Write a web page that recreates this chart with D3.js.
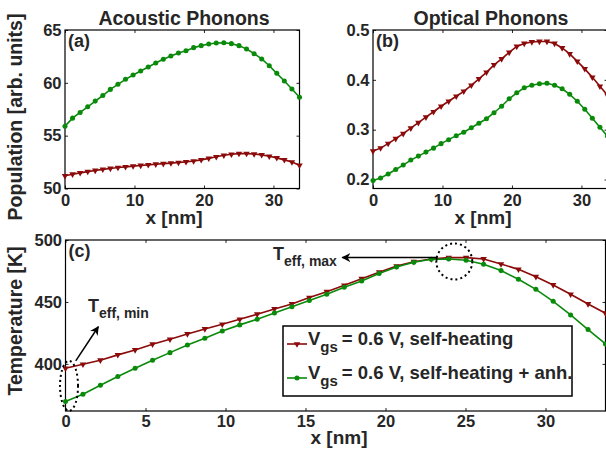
<!DOCTYPE html>
<html>
<head>
<meta charset="utf-8">
<script src="https://cdnjs.cloudflare.com/ajax/libs/d3/7.8.5/d3.min.js"></script>
<style>
body { margin: 0; background: #fff; }
svg { display: block; font-family: "Liberation Sans", Arial, sans-serif; font-weight: bold; }
.tick text { fill: #262626; font-size: 16.5px; font-weight: bold; }
.tick line { stroke: #262626; }
.lbl { fill: #262626; }
</style>
</head>
<body>
<svg id="chart" width="606" height="453"></svg>
<script>
// position along the channel [nm]
var xs = [0, 1.09, 2.18, 3.27, 4.35, 5.44, 6.53, 7.62, 8.71, 9.80, 10.89, 11.98, 13.06, 14.15, 15.24, 16.33,
          17.42, 18.51, 19.60, 20.69, 21.77, 22.86, 23.95, 25.04, 26.13, 27.22, 28.31, 29.40, 30.48, 31.57, 32.66, 33.75];

// (a) acoustic phonon population
var acSelf = [51.2, 51.35, 51.48, 51.6, 51.71, 51.81, 51.9, 51.98, 52.05, 52.12, 52.18, 52.24, 52.3, 52.35, 52.4, 52.46,
              52.52, 52.6, 52.71, 52.85, 53.0, 53.14, 53.24, 53.3, 53.3, 53.26, 53.18, 53.05, 52.9, 52.71, 52.5, 52.2];
var acAnh  = [55.9, 56.66, 57.2, 57.73, 58.27, 58.8, 59.38, 59.86, 60.33, 60.74, 61.12, 61.5, 61.88, 62.23, 62.54, 62.82,
              63.04, 63.33, 63.52, 63.68, 63.77, 63.8, 63.71, 63.52, 63.2, 62.76, 62.26, 61.62, 60.9, 60.17, 59.41, 58.63];

// (b) optical phonon population
var opSelf = [0.257, 0.263, 0.272, 0.282, 0.292, 0.303, 0.314, 0.325, 0.336, 0.347, 0.357, 0.367, 0.377, 0.389, 0.402, 0.415,
              0.43, 0.442, 0.455, 0.467, 0.473, 0.476, 0.477, 0.477, 0.473, 0.464, 0.452, 0.437, 0.422, 0.405, 0.387, 0.369];
var opAnh  = [0.198, 0.203, 0.211, 0.22, 0.229, 0.239, 0.247, 0.255, 0.263, 0.272, 0.28, 0.288, 0.295, 0.304, 0.313, 0.322,
              0.334, 0.347, 0.362, 0.374, 0.384, 0.389, 0.392, 0.393, 0.389, 0.382, 0.371, 0.357, 0.341, 0.323, 0.305, 0.287];

// (c) temperature [K]
var tSelf = [396.5, 399.7, 403, 407.3, 411.3, 415.9, 419.9, 424.2, 428.2, 432, 436, 440.1, 444.4, 448.4, 453.5, 458.3,
             463.4, 468.8, 474, 479, 482.5, 484.7, 485.8, 485.8, 484.7, 480.6, 476.3, 470.4, 463.7, 456.2, 448.4, 440.9];
var tAnh  = [369.6, 375.5, 382.8, 389.8, 396.5, 403, 409.1, 415.3, 420.7, 426.6, 431.5, 436, 441.1, 446.2, 451.1, 456.2,
             461.8, 466.9, 472.9, 478.2, 482, 484.4, 484.7, 483.6, 480.4, 475.3, 468.3, 460.2, 450.5, 439.5, 427.7, 416.1];

var xTicksAB = [0, 10, 20, 30];
var xTicksC = [0, 5, 10, 15, 20, 25, 30];
var legendNames = ["= 0.6 V, self-heating", "= 0.6 V, self-heating + anh."];

var RED = "#8b0a0a", GREEN = "#0a8a0a";
var BIG = 19.5;

var svg = d3.select("#chart");

function drawPanel(p) {
  var x = d3.scaleLinear().domain([0, 33.75]).range([p.left, p.right]);
  var y = d3.scaleLinear().domain(p.ydom).range([p.bottom, p.top]);
  var g = svg.append("g");

  g.append("g").attr("transform", "translate(0," + p.bottom + ")")
    .call(d3.axisBottom(x).tickValues(p.xticks).tickSizeInner(-3).tickSizeOuter(0).tickPadding(p.xpad))
    .call(function(s) { s.select(".domain").remove(); });
  g.append("g").attr("transform", "translate(0," + p.top + ")")
    .call(d3.axisTop(x).tickValues(p.xticks).tickSizeInner(-3).tickSizeOuter(0).tickFormat(""))
    .call(function(s) { s.select(".domain").remove(); });
  g.append("g").attr("transform", "translate(" + p.left + ",0)")
    .call(d3.axisLeft(y).tickValues(p.yticks).tickSizeInner(-3).tickSizeOuter(0).tickPadding(3.5).tickFormat(p.yfmt))
    .call(function(s) { s.select(".domain").remove(); });
  g.append("g").attr("transform", "translate(" + p.right + ",0)")
    .call(d3.axisRight(y).tickValues(p.yticks).tickSizeInner(-3).tickSizeOuter(0).tickFormat(""))
    .call(function(s) { s.select(".domain").remove(); });

  g.append("rect")
    .attr("x", p.left).attr("y", p.top)
    .attr("width", p.right - p.left).attr("height", p.bottom - p.top)
    .attr("fill", "none").attr("stroke", "#000").attr("stroke-width", 1.2);

  var line = d3.line().x(function(d, i) { return x(xs[i]); }).y(function(d) { return y(d); });
  [[p.self, RED, "tri"], [p.anh, GREEN, "dot"]].forEach(function(s) {
    g.append("path").datum(s[0]).attr("d", line)
      .attr("fill", "none").attr("stroke", s[1]).attr("stroke-width", 1.6);
    g.append("g").selectAll("path").data(s[0]).enter().append("path")
      .attr("fill", s[1])
      .attr("transform", function(d, i) {
        return "translate(" + x(xs[i]) + "," + y(d) + ")" + (s[2] == "tri" ? " rotate(180)" : "");
      })
      .attr("d", s[2] == "tri" ? d3.symbol(d3.symbolTriangle, 18)() : d3.symbol(d3.symbolCircle, 20)());
  });

  g.append("text").attr("class", "lbl").attr("x", p.left + 3).attr("y", p.top + 17)
    .attr("font-size", 18).text(p.tag);
  return {x: x, y: y};
}

var pa = drawPanel({left: 65, right: 299.5, top: 30, bottom: 188.5, ydom: [50, 65], yticks: [50, 55, 60, 65],
  xticks: xTicksAB, xpad: 5.5, yfmt: d3.format("d"), self: acSelf, anh: acAnh, tag: "(a)"});
var pb = drawPanel({left: 373, right: 607.5, top: 30, bottom: 188.5, ydom: [0.182, 0.5], yticks: [0.2, 0.3, 0.4, 0.5],
  xticks: xTicksAB, xpad: 5.5, yfmt: d3.format(".1f"), self: opSelf, anh: opAnh, tag: "(b)"});
var pc = drawPanel({left: 65.5, right: 605.5, top: 240, bottom: 411, ydom: [362, 500], yticks: [400, 450, 500],
  xticks: xTicksC, xpad: 4, yfmt: d3.format("d"), self: tSelf, anh: tAnh, tag: "(c)"});

// titles
svg.append("text").attr("class", "lbl").attr("x", 184).attr("y", 25).attr("text-anchor", "middle")
  .attr("font-size", BIG).text("Acoustic Phonons");
svg.append("text").attr("class", "lbl").attr("x", 491).attr("y", 25).attr("text-anchor", "middle")
  .attr("font-size", BIG).text("Optical Phonons");

// axis titles
svg.append("text").attr("class", "lbl").attr("x", 174).attr("y", 224).attr("text-anchor", "middle")
  .attr("font-size", 19).text("x [nm]");
svg.append("text").attr("class", "lbl").attr("x", 483).attr("y", 224).attr("text-anchor", "middle")
  .attr("font-size", 19).text("x [nm]");
svg.append("text").attr("class", "lbl").attr("x", 339).attr("y", 444).attr("text-anchor", "middle")
  .attr("font-size", 19).text("x [nm]");
svg.append("text").attr("class", "lbl").attr("transform", "translate(22,117) rotate(-90)")
  .attr("text-anchor", "middle").attr("font-size", BIG).text("Population [arb. units]");
svg.append("text").attr("class", "lbl").attr("transform", "translate(22,321) rotate(-90)")
  .attr("text-anchor", "middle").attr("font-size", BIG).text("Temperature [K]");

// annotations in panel (c)
svg.append("ellipse").attr("cx", pc.x(0.22)).attr("cy", pc.y(382.3)).attr("rx", 9).attr("ry", 25)
  .attr("fill", "none").attr("stroke", "#000").attr("stroke-width", 2).attr("stroke-dasharray", "2,3");
svg.append("circle").attr("cx", pc.x(24.3)).attr("cy", pc.y(482.7)).attr("r", 18)
  .attr("fill", "none").attr("stroke", "#000").attr("stroke-width", 2).attr("stroke-dasharray", "2,3");

svg.append("defs").append("marker").attr("id", "head").attr("viewBox", "0 0 10 10")
  .attr("refX", 9).attr("refY", 5).attr("markerWidth", 9).attr("markerHeight", 9)
  .attr("markerUnits", "userSpaceOnUse").attr("orient", "auto")
  .append("path").attr("d", "M0,0 L10,5 L0,10 L3,5 Z").attr("fill", "#000");

svg.append("line").attr("x1", pc.x(0.64)).attr("y1", pc.y(402.4)).attr("x2", pc.x(2.05)).attr("y2", pc.y(430))
  .attr("stroke", "#000").attr("stroke-width", 1.5).attr("marker-end", "url(#head)");
svg.append("path")
  .attr("d", "M" + pc.x(23.2) + "," + pc.y(483.3) + "V" + pc.y(485.8) + "H" + pc.x(17.3))
  .attr("fill", "none").attr("stroke", "#000").attr("stroke-width", 1.5).attr("marker-end", "url(#head)");

function teff(x, y, sub) {
  var t = svg.append("text").attr("class", "lbl").attr("x", x).attr("y", y).attr("font-size", 18);
  t.append("tspan").text("T");
  t.append("tspan").attr("dy", 6).attr("font-size", 14).text(sub);
}
teff(88, 312, "eff, min");
teff(273, 260, "eff, max");

// legend
var lg = svg.append("g");
lg.append("rect").attr("x", 283).attr("y", 326).attr("width", 289).attr("height", 70)
  .attr("fill", "#fff").attr("stroke", "#000").attr("stroke-width", 1.5);
[[RED, "tri"], [GREEN, "dot"]].forEach(function(s, i) {
  var yy = 344 + i * 34;
  lg.append("line").attr("x1", 287).attr("x2", 307).attr("y1", yy).attr("y2", yy)
    .attr("stroke", s[0]).attr("stroke-width", 1.6);
  lg.append("path").attr("fill", s[0])
    .attr("transform", "translate(297," + yy + ")" + (s[1] == "tri" ? " rotate(180)" : ""))
    .attr("d", s[1] == "tri" ? d3.symbol(d3.symbolTriangle, 18)() : d3.symbol(d3.symbolCircle, 20)());
  var t = lg.append("text").attr("class", "lbl").attr("x", 308).attr("y", yy + 1).attr("font-size", 18.5);
  t.append("tspan").text("V");
  t.append("tspan").attr("dy", 7).attr("font-size", 15).text("gs");
  t.append("tspan").attr("dy", -7).attr("dx", 4).text(legendNames[i]);
});
</script>
</body>
</html>
